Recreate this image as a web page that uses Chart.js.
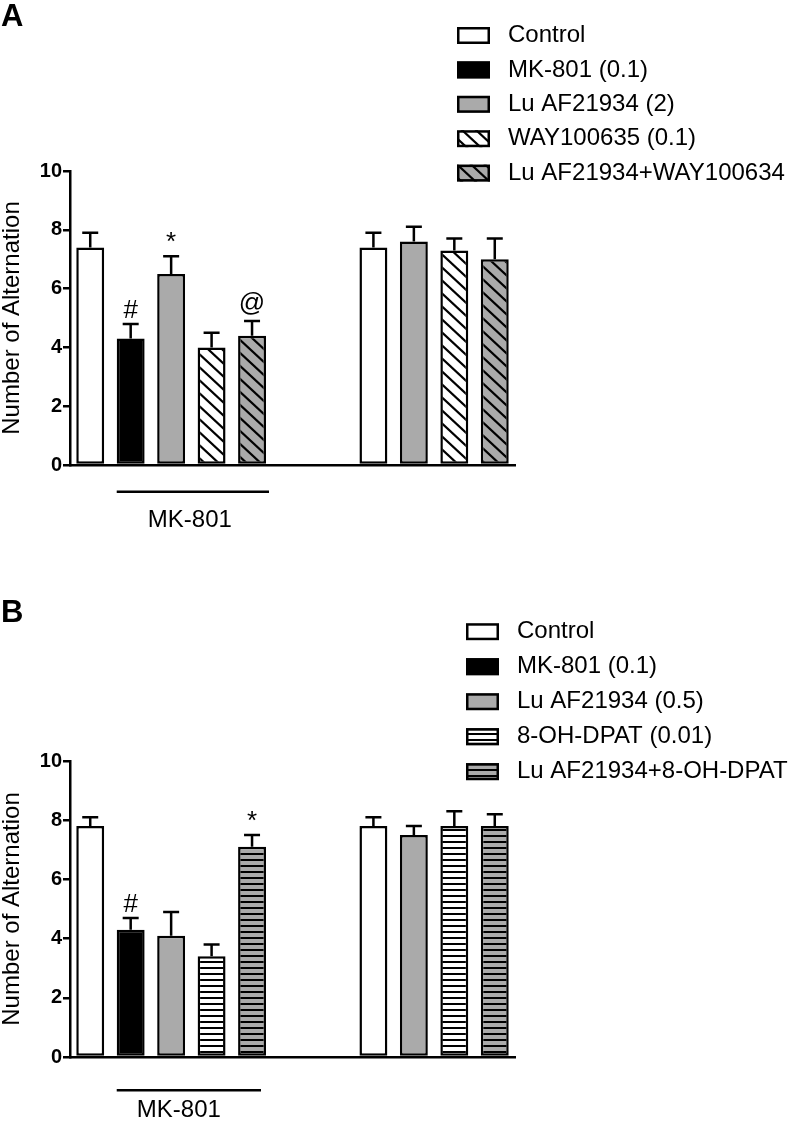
<!DOCTYPE html>
<html>
<head>
<meta charset="utf-8">
<script src="https://cdn.jsdelivr.net/npm/chart.js@4.4.1/dist/chart.umd.min.js"></script>
<style>
  body { margin: 0; background: #fff; }
  #page { position: relative; width: 792px; height: 1129px; }
  canvas { position: absolute; left: 0; }
</style>
</head>
<body>
<div id="page">
  <canvas id="chartA" width="792" height="565" style="top:0"></canvas>
  <canvas id="chartB" width="792" height="564" style="top:565px"></canvas>
</div>
<script>
// ---- data ----
const yTicks = [0, 2, 4, 6, 8, 10];

const treatmentsA = ['Control', 'MK-801 (0.1)', 'Lu AF21934 (2)', 'WAY100635 (0.1)', 'Lu AF21934+WAY100634'];
const slotsA = ['Control', 'MK-801', 'Lu AF21934', 'WAY100635', 'Lu AF21934+WAY100635', '', '', 'Control', 'Lu AF21934', 'WAY100635', 'Lu AF21934+WAY100635'];
const slotTreatmentA = [0, 1, 2, 3, 4, null, null, 0, 2, 3, 4];
const meanA = [7.4, 4.3, 6.5, 4.0, 4.4, null, null, 7.4, 7.6, 7.3, 7.0];
const semA = [0.5, 0.5, 0.6, 0.5, 0.5, null, null, 0.5, 0.5, 0.4, 0.7];
const marksA = ['', '#', '*', '', '@', '', '', '', '', '', ''];

const treatmentsB = ['Control', 'MK-801 (0.1)', 'Lu AF21934 (0.5)', '8-OH-DPAT (0.01)', 'Lu AF21934+8-OH-DPAT'];
const slotsB = ['Control', 'MK-801', 'Lu AF21934', '8-OH-DPAT', 'Lu AF21934+8-OH-DPAT', '', '', 'Control', 'Lu AF21934', '8-OH-DPAT', 'Lu AF21934+8-OH-DPAT'];
const slotTreatmentB = [0, 1, 2, 3, 4, null, null, 0, 2, 3, 4];
const meanB = [7.8, 4.3, 4.1, 3.4, 7.1, null, null, 7.8, 7.5, 7.8, 7.8];
const semB = [0.3, 0.4, 0.8, 0.4, 0.4, null, null, 0.3, 0.3, 0.5, 0.4];
const marksB = ['', '#', '', '', '*', '', '', '', '', '', ''];

const groupLabel = 'MK-801';
const yTitle = 'Number of Alternation';

// ---- styles ----
const FONT = "'Liberation Sans', Arial, sans-serif";
const GRAY = '#aaaaaa';
Chart.defaults.font.family = FONT;
Chart.defaults.color = '#000';

function hatch(bg, kind) {
  const t = document.createElement('canvas');
  const w = kind === 'diag' ? 14 : 6;
  const h = kind === 'diag' ? 13 : 6;
  t.width = w; t.height = h;
  const c = t.getContext('2d');
  c.fillStyle = bg;
  c.fillRect(0, 0, w, h);
  c.fillStyle = '#000';
  c.strokeStyle = '#000';
  if (kind === 'diag') {
    c.lineWidth = 2.2;
    [-w, 0, w].forEach(dx => {
      c.beginPath();
      c.moveTo(dx - w, -h);
      c.lineTo(dx + 2 * w, 2 * h);
      c.stroke();
    });
  } else {
    c.fillRect(0, 0, w, 2);
  }
  return c.createPattern(t, 'repeat');
}

const fillsA = ['#ffffff', '#000000', GRAY, hatch('#ffffff', 'diag'), hatch(GRAY, 'diag')];
const fillsB = ['#ffffff', '#000000', GRAY, hatch('#ffffff', 'horiz'), hatch(GRAY, 'horiz')];

// error bars, marks, legend, group line, panel letter
const decorPlugin = {
  id: 'decor',
  afterDatasetsDraw(chart, args, o) {
    const ctx = chart.ctx;
    const y = chart.scales.y;
    const bars = chart.getDatasetMeta(0).data;
    ctx.save();
    ctx.strokeStyle = '#000';
    ctx.lineWidth = 2.5;
    o.sem.forEach((s, i) => {
      if (s == null) return;
      const b = bars[i];
      const top = y.getPixelForValue(o.mean[i] + s);
      ctx.beginPath();
      ctx.moveTo(b.x, b.y);
      ctx.lineTo(b.x, top);
      ctx.moveTo(b.x - 8, top);
      ctx.lineTo(b.x + 8, top);
      ctx.stroke();
      const m = o.marks[i];
      if (m) {
        ctx.font = '26px ' + FONT;
        ctx.fillStyle = '#000';
        ctx.textAlign = 'center';
        ctx.textBaseline = 'alphabetic';
        const d = Math.max(0, ctx.measureText(m).actualBoundingBoxDescent);
        ctx.fillText(m, b.x, top - 6 - d);
      }
    });
    ctx.restore();
  },
  afterDraw(chart, args, o) {
    const ctx = chart.ctx;
    const area = chart.chartArea;
    const bars = chart.getDatasetMeta(0).data;
    ctx.save();
    // panel letter
    ctx.fillStyle = '#000';
    ctx.font = 'bold 31px ' + FONT;
    ctx.textAlign = 'left';
    ctx.textBaseline = 'alphabetic';
    ctx.fillText(o.letter, 1, o.letterY);
    // legend
    ctx.font = '24px ' + FONT;
    ctx.textBaseline = 'middle';
    o.treatments.forEach((name, i) => {
      const ry = o.legendY + i * o.legendStep;
      ctx.fillStyle = o.fills[i];
      ctx.fillRect(o.legendX, ry - 8.5, 33, 17);
      ctx.strokeStyle = '#000';
      ctx.lineWidth = 2.5;
      ctx.strokeRect(o.legendX + 1.25, ry - 8.5 + 1.25, 30.5, 14.5);
      ctx.fillStyle = '#000';
      ctx.fillText(name, o.legendX + 51, ry);
    });
    // group line under the MK-801 bars
    const b1 = bars[1], b4 = bars[4];
    const x1 = b1.x - b1.width / 2;
    const x2 = b4.x + b4.width / 2 + o.lineExtra;
    const ly = area.bottom + o.lineGap;
    ctx.strokeStyle = '#000';
    ctx.lineWidth = 2.5;
    ctx.beginPath();
    ctx.moveTo(x1, ly);
    ctx.lineTo(x2, ly);
    ctx.stroke();
    ctx.textAlign = 'center';
    ctx.fillText(groupLabel, (x1 + x2) / 2 + o.textShift, area.bottom + o.textGap);
    ctx.restore();
  }
};

function makeChart(id, labels, mean, sem, slotTreatment, fills, panel) {
  const ctx = document.getElementById(id).getContext('2d');
  return new Chart(ctx, {
    type: 'bar',
    data: {
      labels: labels,
      datasets: [{
        data: mean,
        backgroundColor: slotTreatment.map(t => (t == null ? 'transparent' : fills[t])),
        borderColor: '#000',
        borderWidth: 2.5,
        borderSkipped: false,
        categoryPercentage: 1,
        barPercentage: 0.69,
      }],
    },
    options: {
      responsive: false,
      animation: false,
      devicePixelRatio: 1,
      layout: { padding: { left: 0, top: panel.top, right: 277, bottom: panel.bottom } },
      plugins: {
        legend: { display: false },
        tooltip: { enabled: false },
        decor: panel,
      },
      scales: {
        x: {
          ticks: { display: false },
          grid: { display: true, drawOnChartArea: false, drawTicks: false },
          border: { display: true, color: '#000', width: 2.5 },
          afterFit: s => { s.height = 0; },
        },
        y: {
          min: 0,
          max: 10,
          afterBuildTicks: s => { s.ticks = yTicks.map(v => ({ value: v })); },
          ticks: { font: { size: 20, weight: 'bold' }, color: '#000', padding: 1 },
          grid: { drawOnChartArea: false, drawTicks: true, tickLength: 7, color: '#000', lineWidth: 2.5 },
          border: { display: true, color: '#000', width: 2.5 },
          title: { display: true, text: yTitle, font: { size: 24, lineHeight: 1.05 }, color: '#000', padding: 0 },
          afterFit: s => { s.width = 70; },
        },
      },
    },
    plugins: [decorPlugin],
  });
}

makeChart('chartA', slotsA, meanA, semA, slotTreatmentA, fillsA, {
  top: 171, bottom: 100,
  mean: meanA, sem: semA, marks: marksA,
  treatments: treatmentsA, fills: fillsA,
  letter: 'A', letterY: 26,
  legendX: 457, legendY: 35.5, legendStep: 34.4,
  lineGap: 26.7, lineExtra: 3, textGap: 55.5, textShift: -3,
});

makeChart('chartB', slotsB, meanB, semB, slotTreatmentB, fillsB, {
  top: 196, bottom: 72,
  mean: meanB, sem: semB, marks: marksB,
  treatments: treatmentsB, fills: fillsB,
  letter: 'B', letterY: 56.5,
  legendX: 466, legendY: 66.7, legendStep: 35,
  lineGap: 33.3, lineExtra: -5, textGap: 53.5, textShift: -10,
});
</script>
</body>
</html>
